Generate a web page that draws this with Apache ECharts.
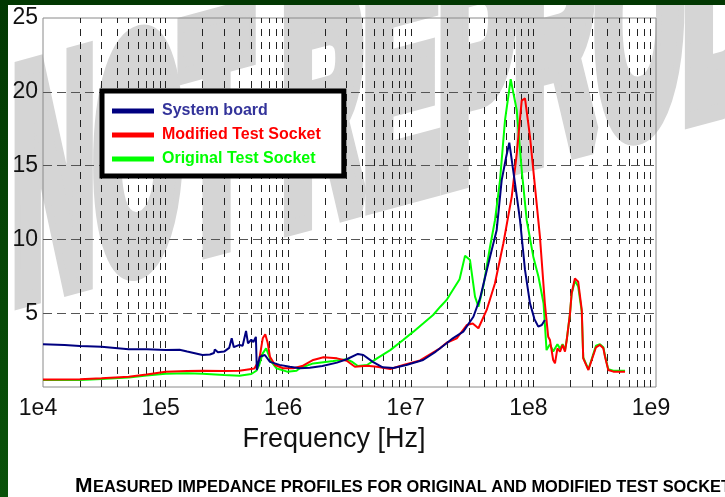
<!DOCTYPE html>
<html>
<head>
<meta charset="utf-8">
<script src="https://cdn.jsdelivr.net/npm/echarts@6/dist/echarts.min.js"></script>
<style>
html,body{margin:0;padding:0;background:#fff;}
#main{width:725px;height:497px;}
</style>
</head>
<body>
<div id="main"></div>
<script>
// ---- data (frequency [Hz], impedance) ----
const seriesNames = ['System board', 'Modified Test Socket', 'Original Test Socket'];
const seriesColors = ['#000080', '#ff0000', '#00ff00'];
const legendTextColors = ['#33339a', '#ff0000', '#00ff00'];
const xTickLabels = ['1e4', '1e5', '1e6', '1e7', '1e8', '1e9'];
const yTickLabels = ['', '5', '10', '15', '20', '25'];
const hGridValues = [5, 10, 15, 20];
const gridMultipliers = [1, 2, 3, 4, 5, 6, 7, 8, 9];
const gridDecades = [1e4, 1e5, 1e6, 1e7, 1e8];

const systemBoard = [
  [1e4, 2.90], [1.5e4, 2.85], [2e4, 2.78], [3e4, 2.72], [5e4, 2.55], [7e4, 2.55],
  [1e5, 2.50], [1.3e5, 2.52], [1.5e5, 2.40], [2e5, 2.17], [2.3e5, 2.20], [2.48e5, 2.30],
  [2.52e5, 2.55], [2.67e5, 2.35], [3e5, 2.40], [3.3e5, 2.65], [3.46e5, 3.30], [3.6e5, 2.70],
  [4e5, 2.85], [4.25e5, 2.80], [4.53e5, 3.80], [4.7e5, 2.95], [5e5, 3.20], [5.2e5, 3.05],
  [5.45e5, 3.40], [5.55e5, 1.15], [5.87e5, 2.05], [6.45e5, 2.17], [7.1e5, 1.70], [8.5e5, 1.50],
  [1.03e6, 1.37], [1.24e6, 1.27], [1.5e6, 1.30], [1.9e6, 1.42], [2.5e6, 1.65], [3e6, 1.88],
  [3.7e6, 2.24], [4.1e6, 2.17], [4.9e6, 1.70], [5.9e6, 1.33], [7.2e6, 1.29], [9.2e6, 1.49],
  [1.26e7, 1.83], [1.6e7, 2.40], [1.96e7, 2.96], [2.2e7, 3.30], [2.68e7, 3.75], [3.24e7, 4.76],
  [3.67e7, 6.0], [4.0e7, 7.3], [4.43e7, 8.83], [5.02e7, 10.64], [5.51e7, 14.0], [6.0e7, 15.6],
  [6.36e7, 16.55], [7.08e7, 13.8], [7.78e7, 11.3], [8.54e7, 7.93], [9.38e7, 5.67], [1.02e8, 4.6],
  [1.096e8, 4.09], [1.17e8, 4.2], [1.24e8, 4.54]
];

const modifiedSocket = [
  [1e4, 0.50], [2e4, 0.52], [3e4, 0.59], [5e4, 0.70], [7e4, 0.85], [1e5, 1.04], [1.5e5, 1.08],
  [2e5, 1.10], [3e5, 1.08], [4e5, 1.10], [5e5, 1.22], [5.3e5, 1.25], [5.5e5, 1.37], [5.8e5, 1.83],
  [6.2e5, 3.30], [6.5e5, 3.57], [6.8e5, 3.0], [7.1e5, 2.05], [7.8e5, 1.49], [9.1e5, 1.27],
  [1.1e6, 1.27], [1.3e6, 1.42], [1.6e6, 1.83], [1.94e6, 2.01], [2.5e6, 1.94], [3e6, 1.78],
  [3.5e6, 1.37], [4.4e6, 1.44], [5.3e6, 1.37], [6.8e6, 1.22], [8.7e6, 1.49], [1.19e7, 1.80],
  [1.73e7, 2.62], [1.96e7, 3.0], [2.37e7, 3.3], [2.86e7, 4.2], [3.2e7, 4.3], [3.56e7, 3.98],
  [4.16e7, 5.22], [4.86e7, 7.03], [5.69e7, 9.74], [6.66e7, 12.9], [7.31e7, 15.8], [8.03e7, 19.4],
  [8.54e7, 19.56], [9.38e7, 16.96], [1.03e8, 13.57], [1.13e8, 10.2], [1.24e8, 5.67], [1.32e8, 3.41],
  [1.365e8, 3.18], [1.45e8, 1.83], [1.50e8, 1.60], [1.57e8, 2.62], [1.65e8, 2.39], [1.73e8, 2.85],
  [1.81e8, 2.39], [1.87e8, 3.18], [1.99e8, 4.99], [2.05e8, 6.35], [2.18e8, 7.36], [2.32e8, 7.13],
  [2.48e8, 5.22], [2.55e8, 1.94], [2.81e8, 1.15], [2.99e8, 1.83], [3.24e8, 2.69], [3.49e8, 2.85],
  [3.72e8, 2.62], [3.84e8, 2.05], [4.08e8, 1.15], [4.49e8, 1.04], [5.59e8, 1.04]
];

const originalSocket = [
  [1e4, 0.47], [2e4, 0.47], [3e4, 0.55], [5e4, 0.65], [7e4, 0.78], [1e5, 0.90], [1.5e5, 0.93],
  [2e5, 0.90], [3e5, 0.81], [4e5, 0.77], [5e5, 0.88], [5.5e5, 1.10], [5.8e5, 1.49], [6.2e5, 2.28],
  [6.6e5, 2.62], [7.3e5, 1.70], [8.0e5, 1.27], [9.8e5, 1.04], [1.17e6, 1.10], [1.24e6, 1.27],
  [1.6e6, 1.60], [2.33e6, 1.76], [3e6, 1.88], [3.3e6, 1.72], [3.7e6, 1.42], [4.4e6, 1.49],
  [5.3e6, 1.94], [6.8e6, 2.50], [8.7e6, 3.20], [1.05e7, 3.75], [1.26e7, 4.30], [1.52e7, 4.88],
  [1.74e7, 5.44], [1.96e7, 5.90], [2.1e7, 6.3], [2.5e7, 7.3], [2.77e7, 8.9], [3.04e7, 8.6],
  [3.34e7, 6.12], [3.56e7, 5.44], [3.90e7, 6.8], [4.43e7, 9.5], [4.86e7, 11.3], [5.34e7, 14.0],
  [5.87e7, 18.1], [6.53e7, 20.85], [7.31e7, 18.77], [8.03e7, 14.7], [8.82e7, 11.3], [9.98e7, 8.83],
  [1.10e8, 7.47], [1.21e8, 5.67], [1.28e8, 2.5], [1.365e8, 2.9], [1.45e8, 2.4], [1.57e8, 2.9],
  [1.65e8, 2.6], [1.73e8, 2.9], [1.81e8, 2.5], [1.87e8, 3.2], [1.99e8, 5.0], [2.05e8, 6.3],
  [2.18e8, 7.2], [2.32e8, 6.8], [2.48e8, 5.1], [2.55e8, 2.0], [2.81e8, 1.2], [2.99e8, 1.9],
  [3.24e8, 2.8], [3.49e8, 2.9], [3.72e8, 2.7], [3.84e8, 2.1], [4.08e8, 1.2], [4.49e8, 1.1],
  [5.59e8, 1.1]
];

const captionFirst = 'M';
const captionRest = 'EASURED IMPEDANCE PROFILES FOR ORIGINAL AND MODIFIED TEST SOCKETS';
const watermarkText = 'NOT REPRODUCE';
const axisName = 'Frequency [Hz]';

// ---- build options ----
const FONT = 'Liberation Sans, Arial, Helvetica, sans-serif';

const gridLineData = [];
gridDecades.forEach(function (d, di) {
  gridMultipliers.forEach(function (m) {
    if (di === 0 && m === 1) return;
    gridLineData.push({ xAxis: d * m, lineStyle: { color: '#222', width: 1, type: [7, 6] } });
  });
});
hGridValues.forEach(function (v) {
  gridLineData.push({ yAxis: v, lineStyle: { color: '#555', width: 1, type: [9, 5] } });
});

const seriesData = [systemBoard, modifiedSocket, originalSocket];
const zOrder = [5, 4, 3];

const series = seriesNames.map(function (name, i) {
  const s = {
    name: name,
    type: 'line',
    data: seriesData[i],
    showSymbol: false,
    symbol: 'none',
    smooth: false,
    color: seriesColors[i],
    lineStyle: { color: seriesColors[i], width: 2 },
    itemStyle: { color: seriesColors[i] },
    z: zOrder[i],
    animation: false
  };
  if (i === 2) {
    s.markLine = {
      silent: true,
      z: 1,
      symbol: ['none', 'none'],
      label: { show: false },
      emphasis: { disabled: true },
      animation: false,
      data: gridLineData
    };
  }
  return s;
});

const chart = echarts.init(document.getElementById('main'), null, { renderer: 'canvas' });

chart.setOption({
  animation: false,
  backgroundColor: '#ffffff',
  textStyle: { fontFamily: FONT },
  grid: {
    left: 43, right: 69, top: 18, bottom: 110,
    show: true, borderColor: '#8a8a8a', borderWidth: 1, backgroundColor: 'transparent'
  },
  legend: {
    orient: 'vertical',
    left: 102, top: 91,
    padding: [11, 23, 8, 10],
    backgroundColor: '#ffffff',
    borderColor: '#000000',
    borderWidth: 5,
    borderRadius: 0,
    itemWidth: 42, itemHeight: 5, itemGap: 6,
    icon: 'rect',
    selectedMode: false,
    textStyle: { fontFamily: FONT, fontSize: 16, fontWeight: 'bold', lineHeight: 18, padding: [0, 0, 0, 3] },
    data: seriesNames.map(function (n, i) {
      return { name: n, textStyle: { color: legendTextColors[i] } };
    })
  },
  xAxis: {
    type: 'log',
    logBase: 10,
    min: 1e4, max: 1e9,
    name: axisName,
    nameLocation: 'middle',
    nameGap: 39,
    nameTextStyle: { fontFamily: FONT, fontSize: 27, color: '#111', padding: [0, 31, 0, 0] },
    axisLine: { show: false },
    axisTick: { show: false },
    splitLine: { show: false },
    minorTick: { show: false },
    axisLabel: {
      fontFamily: FONT, fontSize: 23, color: '#111', margin: 10,
      padding: [0, 10, 0, 0],
      formatter: function (v) { return xTickLabels[Math.round(Math.log10(v)) - 4]; }
    }
  },
  yAxis: {
    type: 'value',
    min: 0, max: 25, interval: 5,
    axisLine: { show: false },
    axisTick: { show: false },
    splitLine: { show: false },
    axisLabel: {
      fontFamily: FONT, fontSize: 23, color: '#111', margin: 5,
      formatter: function (v) { return yTickLabels[Math.round(v / 5)]; }
    }
  },
  graphic: [
    {
      type: 'group',
      x: 13, y: 208,
      scaleX: 0.358065, scaleY: 1.005404,
      rotation: -0.039693,
      z: -10,
      silent: true,
      children: [
        {
          type: 'text',
          rotation: 0.111039,
          scaleX: 0.87, scaleY: 0.87,
          z: -10,
          style: {
            text: watermarkText,
            fontFamily: FONT,
            fontSize: 360,
            fontWeight: 'bold',
            fill: '#d5d5d5',
            stroke: '#d5d5d5',
            lineWidth: 38,
            align: 'left', verticalAlign: 'middle',
            textAlign: 'left', textVerticalAlign: 'middle'
          }
        }
      ]
    },
    {
      type: 'text', x: 75, y: 486.4, z: 50, silent: true,
      style: {
        text: captionFirst, fontFamily: FONT, fontSize: 21, fontWeight: 'bold', fill: '#000',
        align: 'left', verticalAlign: 'middle', textAlign: 'left', textVerticalAlign: 'middle'
      }
    },
    {
      type: 'text', x: 93, y: 487.8, z: 50, scaleX: 0.965, silent: true,
      style: {
        text: captionRest, fontFamily: FONT, fontSize: 17, fontWeight: 'bold', fill: '#000',
        align: 'left', verticalAlign: 'middle', textAlign: 'left', textVerticalAlign: 'middle'
      }
    },
    {
      type: 'rect', z: 100, silent: true,
      shape: { x: 0, y: 0, width: 725, height: 5 },
      style: { fill: '#023802' }
    },
    {
      type: 'rect', z: 100, silent: true,
      shape: { x: 0, y: 0, width: 8, height: 497 },
      style: {
        fill: new echarts.graphic.LinearGradient(0, 0, 0, 1, [
          { offset: 0, color: '#023802' },
          { offset: 1, color: '#0a520a' }
        ])
      }
    }
  ],
  series: series
});
</script>
</body>
</html>
